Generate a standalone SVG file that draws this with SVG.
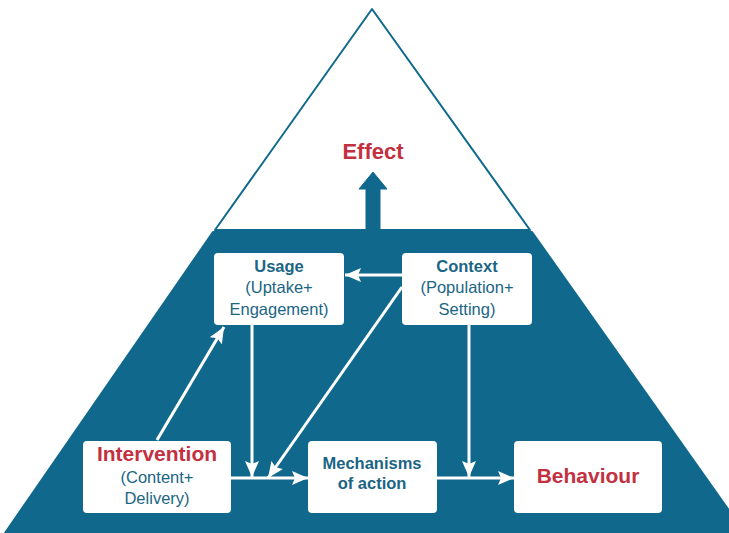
<svg xmlns="http://www.w3.org/2000/svg" width="729" height="533" viewBox="0 0 729 533">
<defs>
<style>
.box{fill:#ffffff;}
.ttl{font-family:"Liberation Sans",Arial,sans-serif;font-weight:bold;font-size:16.5px;fill:#1b6584;text-anchor:middle;}
.sub{font-family:"Liberation Sans",Arial,sans-serif;font-size:16.5px;fill:#1b6584;text-anchor:middle;}
.red{font-family:"Liberation Sans",Arial,sans-serif;font-weight:bold;font-size:21px;fill:#c3303f;text-anchor:middle;}
.con{stroke:#ffffff;stroke-width:3;fill:none;}
</style>
<marker id="ah" viewBox="0 0 16 14" refX="16" refY="7" markerWidth="16" markerHeight="14" markerUnits="userSpaceOnUse" orient="auto">
<path d="M0,0 L16,7 L0,14 L3,7 Z" fill="#ffffff"/>
</marker>
</defs>
<rect width="729" height="533" fill="#ffffff"/>
<g id="pyramid">
<path d="M372,9 L530,230 L215,230 Z" fill="#ffffff" stroke="#10698c" stroke-width="2" stroke-linejoin="round"/>
<path d="M213,232 L532,232 L745,533 L5,533 Z" fill="#10698c" stroke="#10698c" stroke-width="2" stroke-linejoin="round"/>
<path d="M366,233 L366,189 L359,189 L373,172 L387,189 L380,189 L380,233 Z" fill="#10698c" stroke="#10698c" stroke-width="1" stroke-linejoin="round"/>
<text class="red" x="373" y="159" style="font-size:22px">Effect</text>
</g>
<g id="connectors">
<line class="con" x1="157" y1="440" x2="224" y2="327" marker-end="url(#ah)"/>
<line class="con" x1="402" y1="275" x2="345" y2="275" marker-end="url(#ah)"/>
<line class="con" x1="252" y1="325" x2="252" y2="477" marker-end="url(#ah)"/>
<line class="con" x1="402" y1="287" x2="268" y2="478" marker-end="url(#ah)"/>
<line class="con" x1="469" y1="325" x2="469" y2="477" marker-end="url(#ah)"/>
<line class="con" x1="231" y1="478" x2="308" y2="478" marker-end="url(#ah)"/>
<line class="con" x1="437" y1="478" x2="514" y2="478" marker-end="url(#ah)"/>
</g>
<g id="usage">
<rect class="box" x="214" y="253" width="130" height="72" rx="4"/>
<text class="ttl" x="279" y="272">Usage</text>
<text class="sub" x="279" y="293">(Uptake+</text>
<text class="sub" x="279" y="315">Engagement)</text>
</g>
<g id="context">
<rect class="box" x="402" y="253" width="130" height="72" rx="4"/>
<text class="ttl" x="467" y="272">Context</text>
<text class="sub" x="467" y="293">(Population+</text>
<text class="sub" x="467" y="315">Setting)</text>
</g>
<g id="intervention">
<rect class="box" x="83" y="441" width="148" height="72" rx="4"/>
<text class="red" x="157" y="461">Intervention</text>
<text class="sub" x="157" y="483">(Content+</text>
<text class="sub" x="157" y="504">Delivery)</text>
</g>
<g id="mechanisms">
<rect class="box" x="308" y="441" width="129" height="72" rx="4"/>
<text class="ttl" x="372" y="469">Mechanisms</text>
<text class="ttl" x="372" y="489">of action</text>
</g>
<g id="behaviour">
<rect class="box" x="514" y="441" width="148" height="72" rx="4"/>
<text class="red" x="588" y="483">Behaviour</text>
</g>
</svg>
